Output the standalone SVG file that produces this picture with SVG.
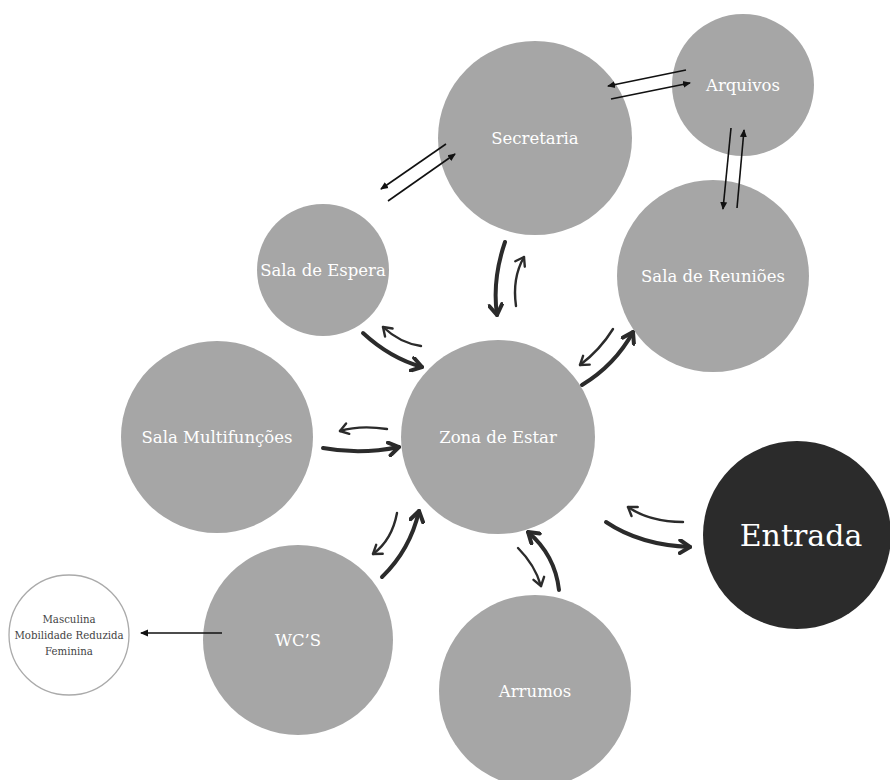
<svg xmlns="http://www.w3.org/2000/svg" width="890" height="780" viewBox="0 0 890 780">
<defs>
<style>
.n{fill:#a6a6a6}
.t{font-family:"DejaVu Serif","Liberation Serif",serif;font-size:16.5px;fill:#fff;text-anchor:middle}
.thick{fill:none;stroke:#2b2b2b;stroke-width:4;stroke-linecap:round;marker-end:url(#chevB)}
.thin{fill:none;stroke:#2b2b2b;stroke-width:2.4;stroke-linecap:round;marker-end:url(#chevS)}
.st{fill:none;stroke:#111;stroke-width:1.6;marker-end:url(#tri)}
</style>
<marker id="chevB" markerUnits="userSpaceOnUse" viewBox="0 0 14 16" refX="12" refY="8" markerWidth="14" markerHeight="16" orient="auto"><path d="M2,1.5 L12,8 L2,14.5" fill="none" stroke="#2b2b2b" stroke-width="4" stroke-linecap="round" stroke-linejoin="round"/></marker>
<marker id="chevS" markerUnits="userSpaceOnUse" viewBox="0 0 12 14" refX="10" refY="7" markerWidth="12" markerHeight="14" orient="auto"><path d="M2,1.5 L10,7 L2,12.5" fill="none" stroke="#2b2b2b" stroke-width="2.4" stroke-linecap="round" stroke-linejoin="round"/></marker>
<marker id="tri" markerUnits="userSpaceOnUse" viewBox="0 0 8 8" refX="7" refY="4" markerWidth="8" markerHeight="8" orient="auto"><path d="M0,0.5 L8,4 L0,7.5 Z" fill="#111"/></marker>
</defs>
<rect width="890" height="780" fill="#fff"/>
<g id="secretaria"><circle class="n" cx="535" cy="138" r="97"/><text class="t" x="535" y="144">Secretaria</text></g>
<g id="arquivos"><circle class="n" cx="743" cy="85" r="71"/><text class="t" x="743" y="91">Arquivos</text></g>
<g id="sala-reunioes"><circle class="n" cx="713" cy="276" r="96"/><text class="t" x="713" y="282">Sala de Reuniões</text></g>
<g id="sala-espera"><circle class="n" cx="323" cy="270" r="66"/><text class="t" x="323" y="276">Sala de Espera</text></g>
<g id="zona-estar"><circle class="n" cx="498" cy="437" r="97"/><text class="t" x="498" y="443">Zona de Estar</text></g>
<g id="sala-multifuncoes"><circle class="n" cx="217" cy="437" r="96"/><text class="t" x="217" y="443">Sala Multifunções</text></g>
<g id="entrada"><circle cx="797" cy="535" r="94" fill="#2b2b2b"/><text class="t" x="801" y="546" style="font-size:30px">Entrada</text></g>
<g id="wcs"><circle class="n" cx="298" cy="640" r="95"/><text class="t" x="298" y="646">WC’S</text></g>
<g id="arrumos"><circle class="n" cx="535" cy="691" r="96"/><text class="t" x="535" y="697">Arrumos</text></g>
<g id="wc-tipos"><circle cx="69" cy="635" r="60" fill="#fff" stroke="#aaa" stroke-width="1.3"/>
<text font-family="DejaVu Serif,Liberation Serif,serif" font-size="10.2" fill="#444" text-anchor="middle"><tspan x="69" y="623">Masculina</tspan><tspan x="69" y="639">Mobilidade Reduzida</tspan><tspan x="69" y="655">Feminina</tspan></text></g>
<g id="connectors">
<path class="st" d="M446,144 L381,189"/>
<path class="st" d="M388,201 L455,154"/>
<path class="st" d="M686,70 L608,86"/>
<path class="st" d="M611,99 L690,83"/>
<path class="st" d="M731,128 L723,209"/>
<path class="st" d="M737,208 L744,130"/>
<path class="st" d="M222,633 L141,633"/>
<path class="thick" d="M505,242 Q492,280 497,315"/>
<path class="thin" d="M516,306 Q512,278 524,257"/>
<path class="thick" d="M363,333 Q390,358 422,367"/>
<path class="thin" d="M421,346 Q400,343 383,327"/>
<path class="thin" d="M387,429 Q360,425 340,431"/>
<path class="thick" d="M323,448 Q360,455 399,447"/>
<path class="thin" d="M397,513 Q392,540 373,554"/>
<path class="thick" d="M382,577 Q410,550 419,511"/>
<path class="thin" d="M518,548 Q535,565 541,586"/>
<path class="thick" d="M559,590 Q555,555 528,532"/>
<path class="thin" d="M683,522 Q650,522 628,507"/>
<path class="thick" d="M606,522 Q640,545 690,547"/>
<path class="thin" d="M613,329 Q600,350 580,365"/>
<path class="thick" d="M582,385 Q615,365 633,332"/>
</g>
</svg>
